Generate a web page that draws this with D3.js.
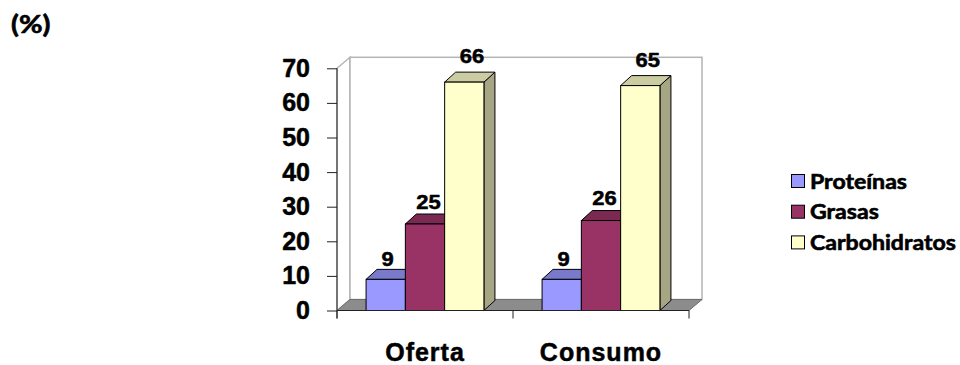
<!DOCTYPE html>
<html>
<head>
<meta charset="utf-8">
<script src="https://cdn.jsdelivr.net/npm/d3@7"></script>
<style>
  html, body { margin: 0; padding: 0; background: #fff; }
  svg { display: block; }
</style>
</head>
<body>
<svg id="chart" width="960" height="365"></svg>
<script>
// Distribución porcentual de macronutrientes: oferta vs. consumo
const categories = ["Oferta", "Consumo"];
const series = ["Proteínas", "Grasas", "Carbohidratos"];
const proteinas = [9, 9];
const grasas = [25, 26];
const carbohidratos = [66, 65];
const yTicks = [0, 10, 20, 30, 40, 50, 60, 70];
const seriesColors = ["#9999FF", "#993366", "#FFFFCC"];
const valuesBySeries = [proteinas, grasas, carbohidratos];

const svg = d3.select("#chart");

// Scales
const y = d3.scaleLinear().domain([0, 70]).range([310.5, 68.3]);
const x0 = d3.scaleBand().domain(categories).range([337, 689]).padding(0);
const x1 = d3.scaleBand().domain(series).range([0, x0.bandwidth()])
  .paddingInner(0).paddingOuter(0.74);

// 3D depth of walls/floor and of each column
const wallDx = 13, wallDy = 11;
const barDx = 11, barDy = 10;

const shade = (c, k) => {
  const r = d3.rgb(c);
  return d3.rgb(r.r * k, r.g * k, r.b * k).formatHex();
};

// Heavy bold text: fill plus a thin outline in the same colour
const heavy = (sel, w) => sel.attr("fill", "#000").attr("stroke", "#000")
  .attr("stroke-width", w).attr("stroke-linejoin", "round");

const xL = x0.range()[0], xR = x0.range()[1];
const yTop = y(70), yBase = y(0);

// Left wall
svg.append("path")
  .attr("d", `M${xL},${yBase} L${xL},${yTop} L${xL + wallDx},${yTop - wallDy} L${xL + wallDx},${yBase - wallDy} Z`)
  .attr("fill", "#fff").attr("stroke", "#b4b4b4").attr("stroke-width", 1.5);
// Back wall
svg.append("rect")
  .attr("x", xL + wallDx).attr("y", yTop - wallDy)
  .attr("width", xR - xL).attr("height", yBase - yTop)
  .attr("fill", "#fff").attr("stroke", "#b4b4b4").attr("stroke-width", 1.5);
// Floor
svg.append("path")
  .attr("d", `M${xL},${yBase} L${xR},${yBase} L${xR + wallDx},${yBase - wallDy} L${xL + wallDx},${yBase - wallDy} Z`)
  .attr("fill", "#8c8c8c").attr("stroke", "#6e6e6e").attr("stroke-width", 1);

// Columns
const bars = [];
categories.forEach((c, ci) => {
  series.forEach((s, si) => {
    bars.push({ cat: c, ser: s, si, v: valuesBySeries[si][ci] });
  });
});

const gBars = svg.append("g");
bars.forEach(b => {
  const x = x0(b.cat) + x1(b.ser);
  const w = x1.bandwidth();
  const yt = y(b.v);
  const col = seriesColors[b.si];
  const g = gBars.append("g");
  // side face
  g.append("path")
    .attr("d", `M${x + w},${yBase} L${x + w},${yt} L${x + w + barDx},${yt - barDy} L${x + w + barDx},${yBase - barDy} Z`)
    .attr("fill", shade(col, 0.65)).attr("stroke", "#000").attr("stroke-width", 1).attr("stroke-linejoin", "round");
  // top face
  g.append("path")
    .attr("d", `M${x},${yt} L${x + barDx},${yt - barDy} L${x + w + barDx},${yt - barDy} L${x + w},${yt} Z`)
    .attr("fill", shade(col, 0.8)).attr("stroke", "#000").attr("stroke-width", 1).attr("stroke-linejoin", "round");
  // front face
  g.append("rect")
    .attr("x", x).attr("y", yt).attr("width", w).attr("height", yBase - yt)
    .attr("fill", col).attr("stroke", "#000").attr("stroke-width", 1);
});

// Value labels above columns (a little perspective shift for taller columns)
svg.append("g").selectAll("text").data(bars).join("text")
  .attr("transform", b => {
    const cx = x0(b.cat) + x1(b.ser) + x1.bandwidth() / 2 + 1 + b.v * 0.1;
    const by = y(b.v) - 13 - b.v * 0.09;
    return `translate(${cx},${by}) scale(1.1,1)`;
  })
  .attr("text-anchor", "middle")
  .style("font-family", "'Liberation Sans', Arial, sans-serif")
  .style("font-weight", "bold")
  .style("font-size", "20px")
  .call(heavy, 0.5)
  .text(b => b.v);

// Y axis
const yAxis = svg.append("g")
  .attr("transform", `translate(${xL},0)`)
  .call(d3.axisLeft(y).tickValues(yTicks).tickSize(10).tickSizeOuter(0).tickPadding(17));
yAxis.select(".domain").attr("stroke", "#222").attr("d", `M0,${yTop}V${yBase + 8}`);
yAxis.selectAll(".tick line").attr("stroke", "#222");
yAxis.selectAll("text")
  .style("font-family", "'Liberation Sans', Arial, sans-serif")
  .style("font-weight", "bold")
  .style("font-size", "25px")
  .call(heavy, 0.5);

// X axis: line, boundary ticks and centred category labels
const xAxis = svg.append("g")
  .attr("transform", `translate(0,${yBase})`)
  .call(d3.axisBottom(x0).tickSize(0).tickPadding(33));
xAxis.select(".domain").attr("stroke", "#222").attr("d", `M${xL},0H${xR}`);
xAxis.selectAll("text")
  .style("font-family", "'Liberation Sans', Arial, sans-serif")
  .style("font-weight", "bold")
  .style("font-size", "25px")
  .style("letter-spacing", "1px")
  .call(heavy, 0.5);
const xBounds = [...categories.map(c => x0(c)), xR];
xAxis.selectAll(".bound").data(xBounds).join("line")
  .attr("class", "bound")
  .attr("x1", d => d).attr("x2", d => d)
  .attr("y1", 0).attr("y2", 8)
  .attr("stroke", "#222");

// Legend
const legend = svg.append("g").attr("transform", "translate(791,174)");
series.forEach((s, i) => {
  const g = legend.append("g").attr("transform", `translate(0,${i * 30.7})`);
  g.append("rect").attr("x", 0.5).attr("y", 0.5).attr("width", 13).attr("height", 13)
    .attr("fill", seriesColors[i]).attr("stroke", "#000").attr("stroke-width", 1);
  g.append("text")
    .attr("transform", "translate(19,14.5) scale(1.1,1)")
    .style("font-family", "Lato, 'Open Sans', sans-serif")
    .style("font-weight", "bold")
    .style("font-size", "21px")
    .call(heavy, 0.6)
    .text(s);
});

// Unit label
svg.append("text")
  .attr("transform", "translate(11,33) scale(1.2,1)")
  .style("font-family", "Lato, 'Open Sans', sans-serif")
  .style("font-weight", "bold")
  .style("font-size", "24px")
  .call(heavy, 0.6)
  .text("(%)");
</script>
</body>
</html>
